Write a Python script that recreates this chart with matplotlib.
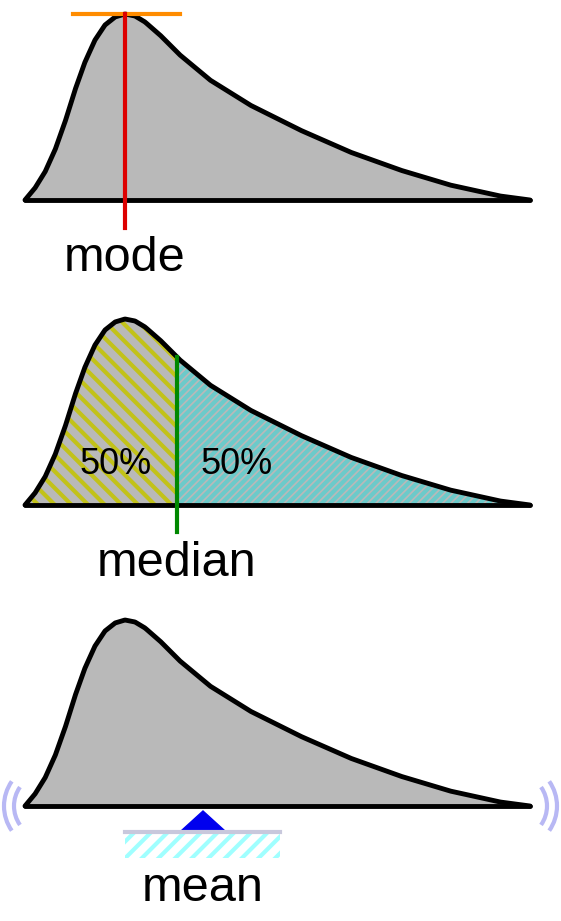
import matplotlib.pyplot as plt
import numpy as np
from matplotlib.patches import Arc, Polygon, Rectangle

plt.rcParams["hatch.linewidth"] = 3.0

# skewed curve, pixel coordinates of the top panel (baseline y=200)
curve_x = [25, 35, 45, 55, 65, 75, 85, 95, 105, 115, 125, 135, 145, 160, 180, 210, 250, 300, 350, 400, 450, 500, 530]
curve_y = [200, 188, 172, 150, 122, 90, 62, 40, 25, 17, 14, 16, 22, 35, 55, 80, 105, 130, 152, 170, 185, 196, 200]
panel_offsets = [0, 305, 606]
mode_x = 125
median_x = 177
mean_x = 203

xs = np.linspace(25, 530, 600)
ys = np.interp(xs, curve_x, curve_y)
base = 200

fig = plt.figure(figsize=(5.61, 9.21), dpi=100)
ax = fig.add_axes([0, 0, 1, 1])
ax.set_xlim(0, 561)
ax.set_ylim(921, 0)
ax.axis("off")

gray = "#b9b9b9"
for off in panel_offsets:
    if off == 305:
        left = xs <= median_x
        ax.fill_between(xs[left], ys[left] + off, base + off, facecolor=gray, edgecolor="#c2c21a", hatch="\\\\", linewidth=0)
        right = xs >= median_x
        ax.fill_between(xs[right], ys[right] + off, base + off, facecolor=gray, edgecolor="#6ccaca", hatch="////", linewidth=0)
    else:
        ax.fill_between(xs, ys + off, base + off, color=gray, linewidth=0)
    ax.plot(xs, ys + off, color="black", lw=3.5, solid_capstyle="round")
    ax.plot([25, 530], [base + off, base + off], color="black", lw=3.5, solid_capstyle="round")

# mode
peak = np.interp(mode_x, curve_x, curve_y)
ax.plot([73, 180], [peak, peak], color="#ff8c00", lw=3)
ax.plot([mode_x, mode_x], [peak, 228], color="#dd0000", lw=3)
ax.text(mode_x, 258, "mode", fontsize=35, ha="center", va="center", family="Liberation Sans")

# median
my = np.interp(median_x, curve_x, curve_y) + 305
ax.plot([median_x, median_x], [my, 532], color="#008800", lw=3)
ax.text(116, 464, "50%", fontsize=26, ha="center", va="center", family="Liberation Sans")
ax.text(237, 464, "50%", fontsize=26, ha="center", va="center", family="Liberation Sans")
ax.text(median_x, 563, "median", fontsize=35, ha="center", va="center", family="Liberation Sans")

# mean: balance point
ax.add_patch(Rectangle((125, 834), 155, 24, facecolor="white", edgecolor="#a0ffff", hatch="//", linewidth=0))
ax.plot([125, 280], [832, 832], color="#c8c8dc", lw=3)
ax.add_patch(Polygon([[mean_x, 811], [mean_x - 22, 831], [mean_x + 22, 831]], closed=True, color="#0000ee"))
ax.text(mean_x, 888, "mean", fontsize=35, ha="center", va="center", family="Liberation Sans")

for cx, sign in [(47, 1), (514, -1)]:
    for r in (33, 43):
        t1, t2 = (145, 215) if sign == 1 else (-35, 35)
        ax.add_patch(Arc((cx, 806), 2 * r, 2 * r, theta1=t1, theta2=t2, color="#b8b8f4", lw=3))

fig.savefig("out.png", dpi=100)
